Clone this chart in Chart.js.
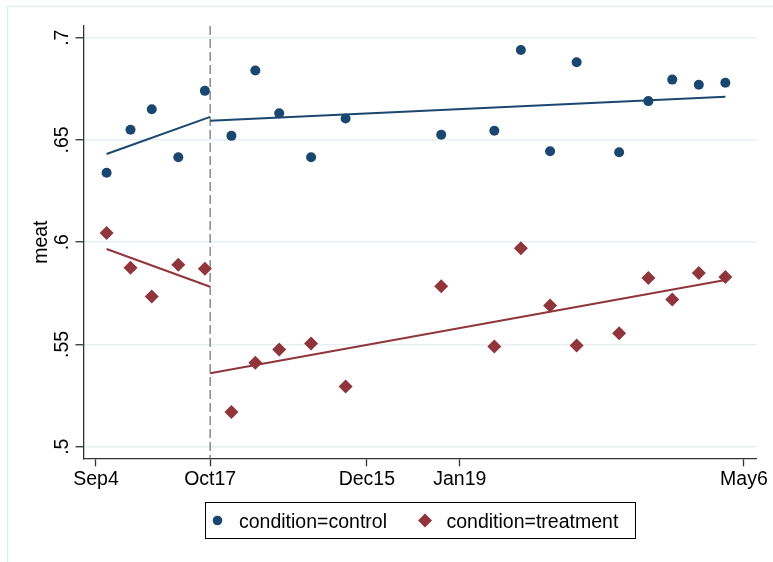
<!DOCTYPE html>
<html>
<head>
<meta charset="utf-8">
<script src="https://cdn.jsdelivr.net/npm/chart.js@4/dist/chart.umd.min.js"></script>
<style>
  body { margin: 0; background: #fff; }
  canvas { display: block; }
</style>
</head>
<body>
<canvas id="chart" width="773" height="562"></canvas>
<script>
// days since Sep 4
const days = [4, 13, 21, 31, 41, 51, 60, 69, 81, 94, 130, 150, 160, 171, 181, 197, 208, 217, 227, 237];
const control = [.634, .655, .665, .6415, .674, .652, .684, .663, .6415, .6605, .6525, .6545, .694, .6445, .688, .644, .669, .6795, .677, .678];
const treatment = [.6045, .5875, .5735, .589, .587, .517, .541, .5475, .5505, .5295, .5785, .549, .597, .569, .5495, .5555, .5825, .572, .585, .583];

// fitted lines, before and after the cutoff
const cutoffDay = 43;
const preFitDays = [4, 43];
const postFitDays = [43, 237];
const controlFitPre = [.6431, .6613];
const controlFitPost = [.6594, .6711];
const treatmentFitPre = [.5967, .5782];
const treatmentFitPost = [.5359, .5815];

const xTickDays = [0, 43, 102, 137, 244];
const xTickLabels = ['Sep4', 'Oct17', 'Dec15', 'Jan19', 'May6'];
const yTicks = [.5, .55, .6, .65, .7];

const navy = '#1a476f';
const maroon = '#90353b';
const FONT = '"Liberation Sans", Arial, Helvetica, sans-serif';

const pts = (xs, ys) => xs.map((x, i) => ({ x: x, y: ys[i] }));
const fmt = v => String(v).replace(/^0/, '');

// stata-ish decorations: rotated y labels, title, cutoff line, legend
const decor = {
  id: 'decor',
  beforeDraw(chart) {
    const c = chart.ctx;
    c.save();
    c.strokeStyle = '#e3ecf0';
    c.lineWidth = 1.5;
    c.beginPath();
    c.moveTo(7.5, 562); c.lineTo(7.5, 6.5); c.lineTo(773, 6.5);
    c.stroke();
    c.restore();
  },
  beforeDatasetsDraw(chart) {
    const c = chart.ctx, a = chart.chartArea;
    const x = chart.scales.x.getPixelForValue(cutoffDay);
    c.save();
    c.strokeStyle = '#8a8a8a';
    c.lineWidth = 1.5;
    c.setLineDash([9, 4]);
    c.beginPath();
    c.moveTo(x, a.top); c.lineTo(x, a.bottom);
    c.stroke();
    c.restore();
  },
  afterDraw(chart) {
    const c = chart.ctx, a = chart.chartArea, y = chart.scales.y;
    c.save();
    c.fillStyle = '#000';
    c.font = '19.5px ' + FONT;
    c.textAlign = 'center';
    c.textBaseline = 'alphabetic';
    yTicks.forEach(v => {
      c.save();
      c.translate(68, y.getPixelForValue(v));
      c.rotate(-Math.PI / 2);
      c.fillText(fmt(v), 0, 0);
      c.restore();
    });
    c.save();
    c.translate(47, (a.top + a.bottom) / 2);
    c.rotate(-Math.PI / 2);
    c.fillText('meat', 0, 0);
    c.restore();

    // legend
    c.strokeStyle = '#000';
    c.lineWidth = 1;
    c.strokeRect(205.5, 502.5, 430, 36);
    c.fillStyle = navy;
    c.beginPath();
    c.arc(217.5, 520.5, 4.8, 0, Math.PI * 2);
    c.fill();
    c.fillStyle = maroon;
    c.beginPath();
    c.moveTo(425, 513.5); c.lineTo(432, 520.5); c.lineTo(425, 527.5); c.lineTo(418, 520.5);
    c.closePath();
    c.fill();
    c.fillStyle = '#000';
    c.textAlign = 'left';
    c.fillText(chart.data.datasets[4].label, 239, 528);
    c.fillText(chart.data.datasets[5].label, 446.5, 528);
    c.restore();
  }
};

const lineDs = (data, color) => ({
  type: 'line', data: data, borderColor: color, borderWidth: 2,
  pointRadius: 0, fill: false, showLine: true, tension: 0
});

new Chart(document.getElementById('chart'), {
  type: 'scatter',
  data: {
    datasets: [
      lineDs(pts(preFitDays, controlFitPre), navy),
      lineDs(pts(postFitDays, controlFitPost), navy),
      lineDs(pts(preFitDays, treatmentFitPre), maroon),
      lineDs(pts(postFitDays, treatmentFitPost), maroon),
      {
        label: 'condition=control', data: pts(days, control),
        pointStyle: 'circle', pointRadius: 5, backgroundColor: navy, borderWidth: 0
      },
      {
        label: 'condition=treatment', data: pts(days, treatment),
        pointStyle: 'rectRot', pointRadius: 7, backgroundColor: maroon, borderWidth: 0
      }
    ]
  },
  options: {
    responsive: false,
    animation: false,
    devicePixelRatio: 1,
    layout: { padding: { left: 0, right: 16.3, top: 26, bottom: 0 } },
    plugins: { legend: { display: false }, tooltip: { enabled: false } },
    scales: {
      x: {
        type: 'linear', min: -4.7, max: 248.8,
        afterBuildTicks: s => { s.ticks = xTickDays.map(v => ({ value: v })); },
        afterFit: s => { s.height = 562 - 458.3; },
        ticks: {
          autoSkip: false, maxRotation: 0, padding: 2, color: '#000',
          font: { family: FONT, size: 19.5 },
          callback: v => xTickLabels[xTickDays.indexOf(v)]
        },
        grid: { drawOnChartArea: false, drawTicks: true, tickLength: 8, tickColor: '#333', tickWidth: 1.3 },
        border: { display: true, color: '#333', width: 1.3 }
      },
      y: {
        min: .49433, max: .70572,
        afterBuildTicks: s => { s.ticks = yTicks.map(v => ({ value: v })); },
        afterFit: s => { s.width = 83.5; },
        ticks: { display: false },
        grid: { color: '#e6eff2', lineWidth: 1.5, drawTicks: true, tickLength: 8, tickColor: '#333', tickWidth: 1.3 },
        border: { display: true, color: '#333', width: 1.3 }
      }
    }
  },
  plugins: [decor]
});
</script>
</body>
</html>
